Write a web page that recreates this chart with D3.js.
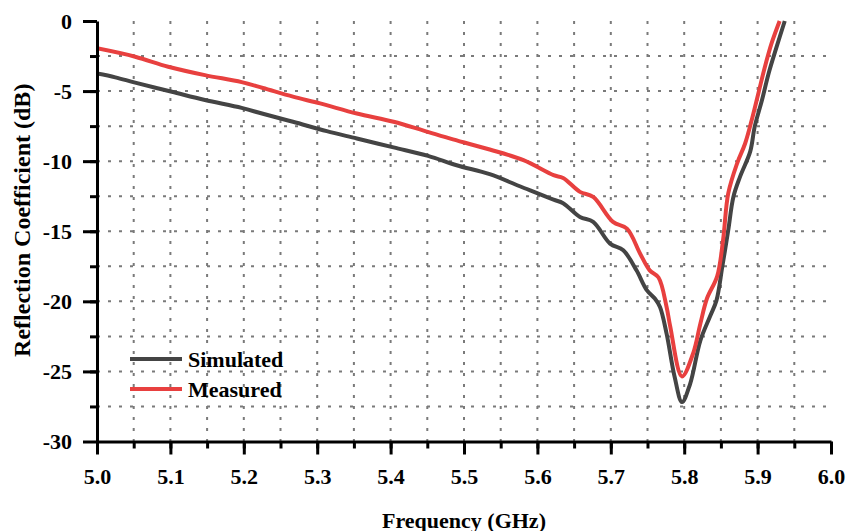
<!DOCTYPE html>
<html>
<head>
<meta charset="utf-8">
<script src="https://cdn.jsdelivr.net/npm/d3@7"></script>
<style>
    body { margin: 0; background: #fff; }
    svg text { font-family: "Liberation Serif", "Times New Roman", serif; font-weight: bold; fill: #000; }
</style>
</head>
<body>
<div id="chart"></div>
<script>
// [frequency GHz, dB]
const simulated = [
    [5.000, -3.75], [5.025, -4.02], [5.052, -4.40], [5.102, -5.05], [5.147, -5.64],
    [5.197, -6.20], [5.226, -6.62], [5.267, -7.19], [5.313, -7.86], [5.354, -8.38],
    [5.404, -9.02], [5.451, -9.62], [5.490, -10.29], [5.535, -10.93], [5.576, -11.79],
    [5.622, -12.75], [5.635, -13.0], [5.658, -13.98], [5.676, -14.33], [5.699, -15.88],
    [5.717, -16.36], [5.735, -17.79], [5.749, -19.2], [5.760, -19.8], [5.767, -20.4],
    [5.776, -22.3], [5.787, -25.4], [5.797, -27.19], [5.808, -25.9], [5.822, -22.8],
    [5.835, -21.1], [5.844, -19.93], [5.852, -17.5], [5.860, -14.93], [5.867, -12.55],
    [5.876, -11.12], [5.890, -9.3], [5.896, -7.55], [5.906, -5.64], [5.915, -3.74],
    [5.926, -1.83], [5.937, 0]
];

const measured = [
    [5.000, -1.95], [5.052, -2.55], [5.097, -3.26], [5.147, -3.86], [5.197, -4.36],
    [5.226, -4.78], [5.267, -5.40], [5.304, -5.88], [5.354, -6.60], [5.404, -7.19],
    [5.445, -7.82], [5.485, -8.45], [5.535, -9.17], [5.581, -9.93], [5.622, -11.0],
    [5.635, -11.2], [5.658, -12.19], [5.676, -12.55], [5.703, -14.33], [5.722, -14.81],
    [5.740, -16.6], [5.753, -17.79], [5.765, -18.3], [5.776, -20.4], [5.781, -21.8],
    [5.797, -25.36], [5.812, -23.74], [5.822, -21.6], [5.831, -19.8], [5.845, -18.2],
    [5.853, -15.6], [5.860, -12.3], [5.872, -10.17], [5.883, -8.74], [5.892, -7.07],
    [5.901, -5.17], [5.910, -3.26], [5.919, -1.6], [5.930, 0]
];

const xTicks = [5.0, 5.1, 5.2, 5.3, 5.4, 5.5, 5.6, 5.7, 5.8, 5.9, 6.0];
const yTicks = [0, -5, -10, -15, -20, -25, -30];
const seriesNames = ["Simulated", "Measured"];
const seriesColors = ["#444444", "#e8403f"];

class ReflectionChart {
    constructor(parentElement) {
        this.parentElement = parentElement;
        this.initVis();
    }

    initVis() {
        let vis = this;

        vis.margin = { top: 21, right: 18, bottom: 89.5, left: 97 };
        vis.width = 849 - vis.margin.left - vis.margin.right;
        vis.height = 531 - vis.margin.top - vis.margin.bottom;

        vis.svg = d3.select("#" + vis.parentElement).append("svg")
            .attr("width", 849)
            .attr("height", 531)
            .append("g")
            .attr("transform", "translate(" + vis.margin.left + "," + vis.margin.top + ")");

        vis.x = d3.scaleLinear()
            .domain([5.0, 6.0])
            .range([0, vis.width]);

        vis.y = d3.scaleLinear()
            .domain([-30, 0])
            .range([vis.height, 0]);

        vis.svg.append("clipPath")
            .attr("id", "clip")
            .append("rect")
            .attr("y", -2)
            .attr("width", vis.width)
            .attr("height", vis.height + 2);

        vis.line = d3.line()
            .x(d => vis.x(d[0]))
            .y(d => vis.y(d[1]))
            .curve(d3.curveCatmullRom.alpha(0.5));

        this.updateVis();
    }

    updateVis() {
        let vis = this;

        // dotted grid at every minor tick
        let xMinor = d3.range(1, 20).map(i => 5.0 + i * 0.05);
        let yMinor = d3.range(1, 12).map(i => -i * 2.5);

        vis.svg.append("g")
            .selectAll("line")
            .data(xMinor)
            .enter()
            .append("line")
            .attr("x1", d => vis.x(d))
            .attr("x2", d => vis.x(d))
            .attr("y1", 0)
            .attr("y2", vis.height)
            .style("stroke", "#7a7a7a")
            .style("stroke-width", 2)
            .style("stroke-dasharray", "3,8");

        vis.svg.append("g")
            .selectAll("line")
            .data(yMinor)
            .enter()
            .append("line")
            .attr("x1", 0)
            .attr("x2", vis.width)
            .attr("y1", d => vis.y(d))
            .attr("y2", d => vis.y(d))
            .style("stroke", "#7a7a7a")
            .style("stroke-width", 2)
            .style("stroke-dasharray", "3,8");

        // curves
        vis.svg.selectAll(".serie")
            .data([simulated, measured])
            .enter()
            .append("path")
            .attr("class", "serie")
            .attr("clip-path", "url(#clip)")
            .attr("fill", "none")
            .style("stroke", (d, i) => seriesColors[i])
            .style("stroke-width", 4)
            .style("stroke-linejoin", "round")
            .attr("d", d => vis.line(d));

        // minor ticks
        vis.svg.append("g")
            .attr("class", "x minor")
            .attr("transform", "translate(0," + vis.height + ")")
            .call(d3.axisBottom(vis.x).tickValues(xMinor).tickSize(7).tickFormat(""));

        vis.svg.append("g")
            .attr("class", "y minor")
            .call(d3.axisLeft(vis.y).tickValues(yMinor).tickSize(7).tickFormat(""));

        // Add the x-axis.
        vis.svg.append("g")
            .attr("class", "x axis")
            .attr("transform", "translate(0," + vis.height + ")")
            .call(d3.axisBottom(vis.x)
                .tickValues(xTicks)
                .tickSize(13)
                .tickSizeOuter(0)
                .tickPadding(14)
                .tickFormat(d3.format(".1f")));

        // Add the y-axis.
        vis.svg.append("g")
            .attr("class", "y axis")
            .call(d3.axisLeft(vis.y)
                .tickValues(yTicks)
                .tickSize(14)
                .tickSizeOuter(0)
                .tickPadding(11)
                .tickFormat(d => String(d)));

        vis.svg.selectAll(".axis path, .axis line, .minor line, .minor path")
            .style("stroke", "#000")
            .style("stroke-width", 3);
        vis.svg.selectAll(".minor path").remove();

        vis.svg.selectAll(".axis text")
            .style("font-size", "22px")
            .style("font-family", "'Liberation Serif', serif")
            .style("font-weight", "bold")
            .attr("fill", "#000");

        vis.svg.append("text")
            .attr("x", vis.width / 2)
            .attr("y", vis.height + 86)
            .style("text-anchor", "middle")
            .style("font-size", "22px")
            .text("Frequency (GHz)");

        vis.svg.append("text")
            .attr("transform", "rotate(-90)")
            .attr("x", -(vis.height / 2) + 11)
            .attr("y", -67)
            .style("text-anchor", "middle")
            .style("font-size", "24px")
            .text("Reflection Coefficient (dB)");

        // legend
        let legend = vis.svg.selectAll(".legend")
            .data(seriesNames)
            .enter()
            .append("g")
            .attr("class", "legend")
            .attr("transform", (d, i) => "translate(33," + (338 + i * 30) + ")");

        legend.append("line")
            .attr("x1", 0)
            .attr("x2", 52)
            .style("stroke", (d, i) => seriesColors[i])
            .style("stroke-width", 4);

        legend.append("text")
            .attr("x", 58)
            .attr("y", 8)
            .style("font-size", "22px")
            .text(d => d);
    }
}

new ReflectionChart("chart");
</script>
</body>
</html>
